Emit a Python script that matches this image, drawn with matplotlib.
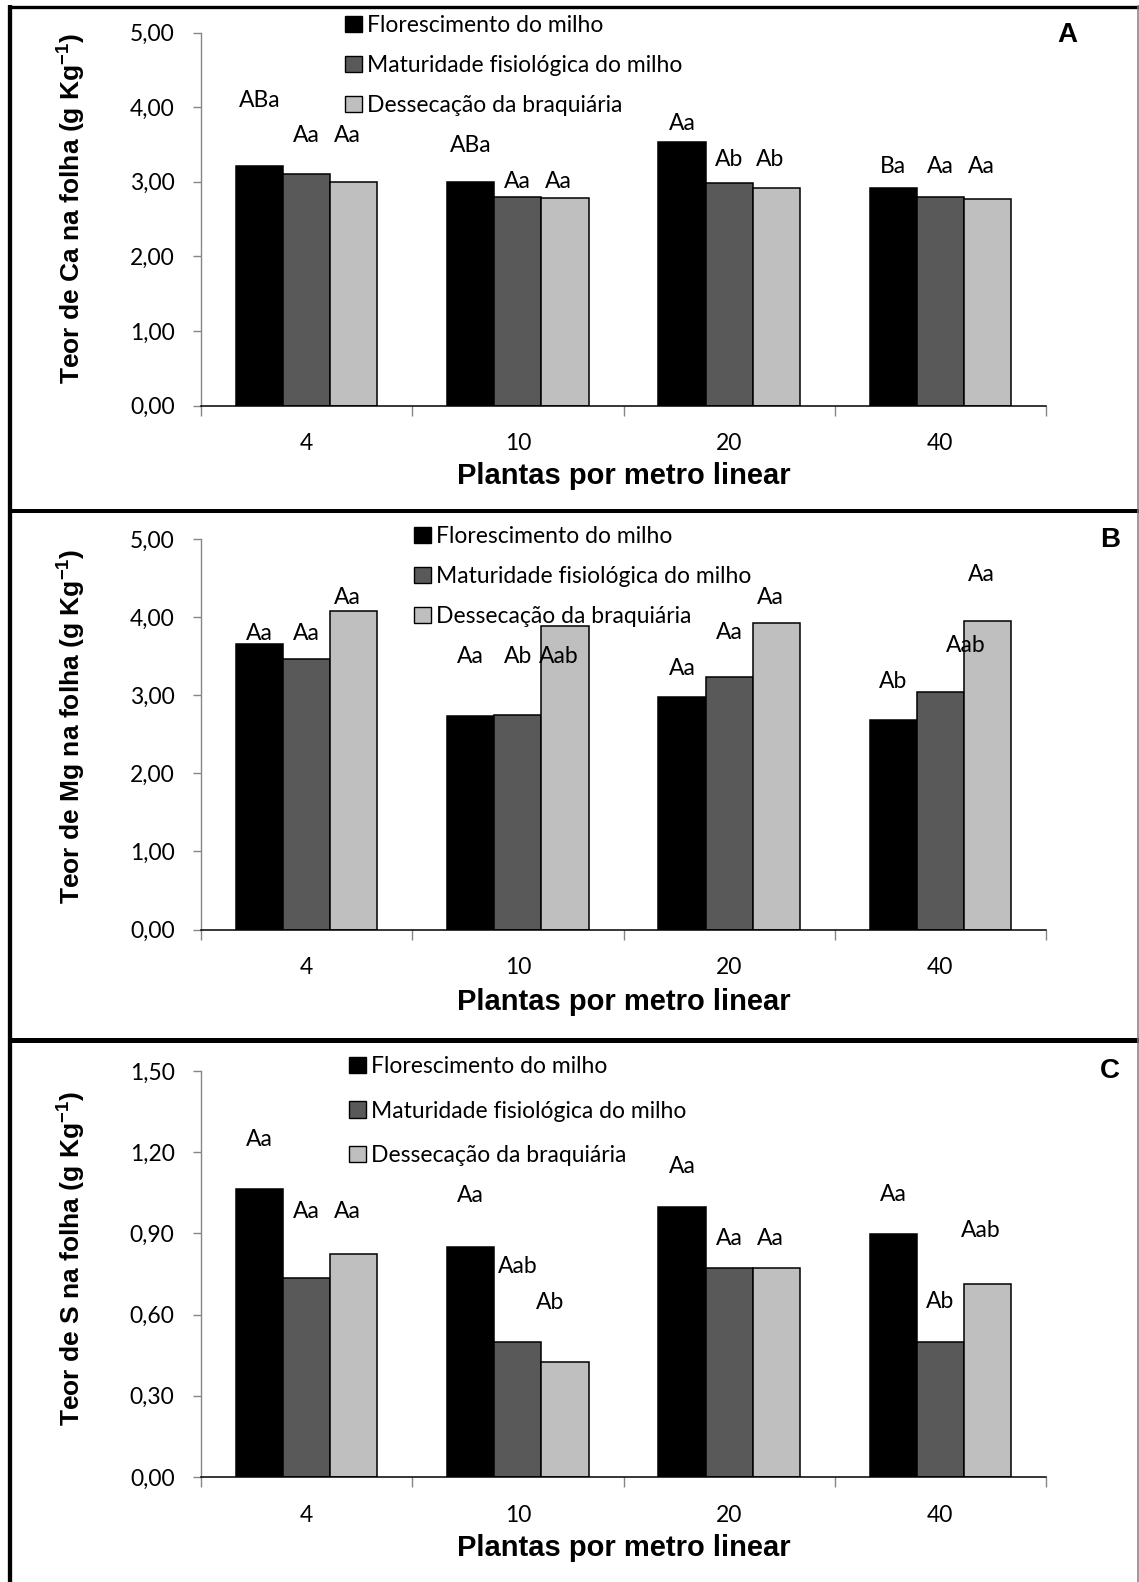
import matplotlib
matplotlib.use("Agg")
import matplotlib.pyplot as plt
from matplotlib.lines import Line2D
from matplotlib.patches import Patch
import numpy as np

# ---- data -------------------------------------------------------------
categories = ["4", "10", "20", "40"]
series_names = ["Florescimento do milho",
                "Maturidade fisiológica do milho",
                "Dessecação da braquiária"]

# Ca (panel A)
ca_flor = [3.21, 3.00, 3.53, 2.91]
ca_mat = [3.11, 2.80, 2.98, 2.80]
ca_des = [3.00, 2.78, 2.92, 2.77]
ca_let_flor = ["ABa", "ABa", "Aa", "Ba"]
ca_let_mat = ["Aa", "Aa", "Ab", "Aa"]
ca_let_des = ["Aa", "Aa", "Ab", "Aa"]
ca_lab_y_flor = [4.09, 3.48, 3.78, 3.20]
ca_lab_y_mat = [3.62, 3.00, 3.30, 3.20]
ca_lab_y_des = [3.62, 3.00, 3.30, 3.20]

# Mg (panel B)
mg_flor = [3.66, 2.73, 2.98, 2.68]
mg_mat = [3.46, 2.75, 3.23, 3.04]
mg_des = [4.08, 3.88, 3.92, 3.95]
mg_let_flor = ["Aa", "Aa", "Aa", "Ab"]
mg_let_mat = ["Aa", "Ab", "Aa", "Aab"]
mg_let_des = ["Aa", "Aab", "Aa", "Aa"]
mg_lab_y_flor = [3.79, 3.49, 3.34, 3.17]
mg_lab_y_mat = [3.79, 3.49, 3.80, 3.63]
mg_lab_y_des = [4.25, 3.49, 4.25, 4.55]

# S (panel C)
s_flor = [1.064, 0.849, 0.999, 0.899]
s_mat = [0.735, 0.500, 0.774, 0.499]
s_des = [0.824, 0.424, 0.774, 0.713]
s_let_flor = ["Aa", "Aa", "Aa", "Aa"]
s_let_mat = ["Aa", "Aab", "Aa", "Ab"]
s_let_des = ["Aa", "Ab", "Aa", "Aab"]
s_lab_y_flor = [1.247, 1.04, 1.146, 1.043]
s_lab_y_mat = [0.98, 0.776, 0.881, 0.647]
s_lab_y_des = [0.98, 0.644, 0.881, 0.912]

ca_ticks = [0.0, 1.0, 2.0, 3.0, 4.0, 5.0]
mg_ticks = [0.0, 1.0, 2.0, 3.0, 4.0, 5.0]
s_ticks = [0.0, 0.30, 0.60, 0.90, 1.20, 1.50]

# ---- style ------------------------------------------------------------
W, H = 1139, 1582
plt.rcParams["mathtext.fontset"] = "custom"
plt.rcParams["mathtext.rm"] = "Liberation Sans"
plt.rcParams["mathtext.bf"] = "Liberation Sans:bold"

BODY = ["Lato", "DejaVu Sans"]
BOLD = ["Liberation Sans", "DejaVu Sans"]
FS = 16.5
colors = ["#000000", "#595959", "#BFBFBF"]
bar_w = 0.223

fig = plt.figure(figsize=(W / 100, H / 100), dpi=100)


def fx(x):
    return x / W


def fy(y):
    return 1 - y / H


def panel(ytop, yzero, values, letters, lab_heights, ticks, ylabel, tag,
          tag_xy, leg_xy, leg_space, nudges, ylab_pos, xlab_off):
    ax = fig.add_axes([fx(201), fy(yzero), fx(1046) - fx(201),
                       fy(ytop) - fy(yzero)])
    x = np.arange(len(categories))
    for k, (vals, col) in enumerate(zip(values, colors)):
        ax.bar(x + (k - 1) * bar_w, vals, width=bar_w, color=col,
               edgecolor="black", linewidth=1.1, zorder=3)
    for k in range(3):
        for i in range(len(categories)):
            dx = nudges.get((k, i), -0.03 if k == 2 else 0.0)
            ax.text(x[i] + (k - 1) * bar_w + dx, lab_heights[k][i],
                    letters[k][i], ha="center", va="center",
                    family=BODY, fontsize=FS, zorder=4)
    ax.set_xlim(-0.5, len(categories) - 0.5)
    ax.set_ylim(ticks[0], ticks[-1])
    ax.set_yticks(ticks)
    ax.set_yticklabels([f"{t:.2f}".replace(".", ",") for t in ticks],
                       family=BODY, fontsize=FS)
    ax.tick_params(axis="y", length=6, width=1, color="#868686", pad=13)
    # boundary ticks on the category axis, labels centred between them
    ax.set_xticks(np.arange(len(categories) + 1) - 0.5)
    ax.set_xticklabels([])
    ax.tick_params(axis="x", which="major", length=7, width=1,
                   color="#868686", direction="out")
    ax.set_xticks(x, minor=True)
    ax.set_xticklabels(categories, minor=True, family=BODY, fontsize=FS)
    ax.tick_params(axis="x", which="minor", length=0, pad=20)
    for s in ("top", "right"):
        ax.spines[s].set_visible(False)
    ax.spines["left"].set_color("#868686")
    ax.spines["left"].set_linewidth(1.0)
    ax.spines["bottom"].set_color("black")
    ax.spines["bottom"].set_linewidth(1.1)
    ax.spines["bottom"].set_zorder(5)
    hpx = yzero - ytop
    ax.set_ylabel(ylabel, family=BOLD, fontsize=19, fontweight="bold")
    ax.yaxis.set_label_coords((ylab_pos[0] - 201) / 845,
                              (yzero - ylab_pos[1]) / hpx)
    ax.yaxis.label.set_va("center")
    ax.set_xlabel("Plantas por metro linear", family=BOLD, fontsize=21,
                  fontweight="bold")
    ax.xaxis.set_label_coords(0.5, -xlab_off / hpx)
    ax.xaxis.label.set_va("center")
    handles = [Patch(facecolor=c, edgecolor="black", linewidth=1.0)
               for c in colors]
    ax.legend(handles, series_names, loc="upper left",
              bbox_to_anchor=(fx(leg_xy[0]), fy(leg_xy[1])),
              bbox_transform=fig.transFigure, frameon=False,
              prop={"family": BODY, "size": FS}, handlelength=0.72,
              handleheight=0.72, handletextpad=0.25, borderpad=0,
              borderaxespad=0, labelspacing=leg_space)
    fig.text(fx(tag_xy[0]), fy(tag_xy[1]), tag, family=BOLD, fontsize=20,
             fontweight="bold", ha="center", va="center")
    return ax


panel(32.5, 405.6, [ca_flor, ca_mat, ca_des],
      [ca_let_flor, ca_let_mat, ca_let_des],
      [ca_lab_y_flor, ca_lab_y_mat, ca_lab_y_des], ca_ticks,
      r"Teor de Ca na folha (g Kg$^{\mathbf{-1}}$)", "A", (1067, 35),
      (345, 15), 0.83, {}, (71, 208), 70)

panel(539, 929.5, [mg_flor, mg_mat, mg_des],
      [mg_let_flor, mg_let_mat, mg_let_des],
      [mg_lab_y_flor, mg_lab_y_mat, mg_lab_y_des], mg_ticks,
      r"Teor de Mg na folha (g Kg$^{\mathbf{-1}}$)", "B", (1110, 540),
      (414, 526), 0.83, {(1, 3): 0.12}, (71, 726), 72)

panel(1071, 1477, [s_flor, s_mat, s_des],
      [s_let_flor, s_let_mat, s_let_des], 
      [s_lab_y_flor, s_lab_y_mat, s_lab_y_des], s_ticks,
      r"Teor de S na folha (g Kg$^{\mathbf{-1}}$)", "C", (1110, 1071),
      (349, 1056), 1.03, {(2, 1): -0.07}, (71, 1259), 71)

# ---- outer frame and panel separators ---------------------------------
frame = [
    ((7.5, 1139), (6.7, 6.7), 2.4, "black"),
    ((9.5, 9.5), (5, 1582), 3.1, "black"),
    ((7.5, 1139), (511.3, 511.3), 2.9, "black"),
    ((7.5, 1139), (1040, 1040), 3.6, "black"),
    ((1137.5, 1137.5), (5, 1582), 1.1, "#7f7f7f"),
]
for xs, ys, lw, c in frame:
    fig.add_artist(Line2D([fx(xs[0]), fx(xs[1])], [fy(ys[0]), fy(ys[1])],
                          transform=fig.transFigure, color=c, linewidth=lw,
                          solid_capstyle="butt"))

fig.savefig("out.png", dpi=100)
